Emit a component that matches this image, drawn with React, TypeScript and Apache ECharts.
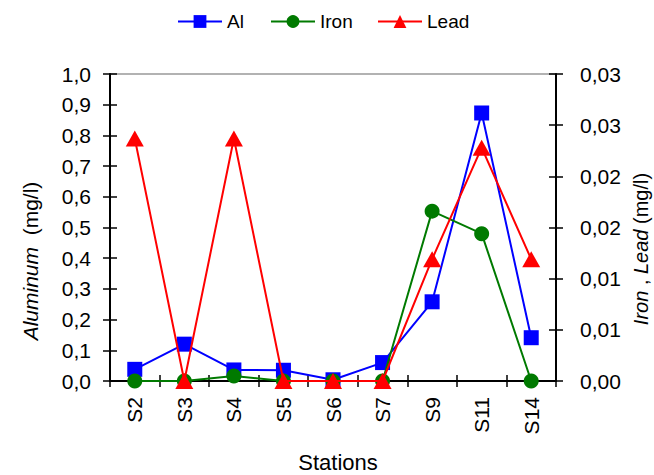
import React, { useEffect, useRef } from "react";
import * as echarts from "echarts";

const categories = ["S2", "S3", "S4", "S5", "S6", "S7", "S9", "S11", "S14"];
const aluminum = [0.038, 0.12, 0.036, 0.035, 0.004, 0.06, 0.258, 0.873, 0.141];
const iron = [0, 0, 0.0005, 0, 0, 0, 0.0166, 0.0144, 0];
const lead = [0.0237, 0, 0.0237, 0, 0, 0, 0.0119, 0.0228, 0.0119];
const seriesNames = ["Al", "Iron", "Lead"];

const FONT = "'Liberation Sans', Arial, sans-serif";

export default function App() {
  const ref = useRef<HTMLDivElement>(null);
  useEffect(() => {
    if (!ref.current) return;
    const chart = echarts.init(ref.current, null, { renderer: "svg" });
    const leftFmt = (v: number) => v.toFixed(1).replace(".", ",");
    const rightFmt = (v: number) =>
      (Math.round(Math.round(v * 1000) / 10) / 100).toFixed(2).replace(".", ",");
    const baseY = { type: "value", splitLine: { show: false } };
    const legendText = { fontFamily: FONT, fontSize: 19, color: "#000" };
    const legendLefts = [177, 270, 377];
    chart.setOption({
      animation: false,
      backgroundColor: "#fff",
      textStyle: { fontFamily: FONT },
      grid: {
        left: 110,
        right: 98,
        top: 74,
        bottom: 94,
        show: true,
        borderColor: "#999",
        borderWidth: 1.5,
      },
      legend: seriesNames.map((n, i) => ({
        data: [n],
        left: legendLefts[i],
        top: 12,
        padding: 0,
        itemWidth: 44,
        itemHeight: 16,
        itemGap: 0,
        textStyle: legendText,
      })),
      xAxis: [
        {
          type: "category",
          data: categories,
          position: "bottom",
          axisLine: { lineStyle: { color: "#000", width: 2 } },
          axisTick: { show: true, length: 6, lineStyle: { color: "#000", width: 1.5 } },
          axisLabel: {
            rotate: 90,
            margin: 16,
            fontSize: 21,
            color: "#000",
            fontFamily: FONT,
          },
        },
        {
          type: "category",
          data: categories,
          position: "bottom",
          axisLine: { show: false },
          axisTick: { show: true, inside: true, length: 6, lineStyle: { color: "#000", width: 1.5 } },
          axisLabel: { show: false },
        },
      ],
      yAxis: [
        {
          ...baseY,
          position: "left",
          min: 0,
          max: 1,
          interval: 0.1,
          axisLine: { show: true, lineStyle: { color: "#000", width: 2 } },
          axisTick: { show: true, length: 7, lineStyle: { color: "#000", width: 1.5 } },
          axisLabel: { formatter: leftFmt, margin: 19, fontSize: 21, color: "#000", fontFamily: FONT },
        },
        {
          ...baseY,
          position: "right",
          min: 0,
          max: 0.03,
          interval: 0.005,
          axisLine: { show: true, lineStyle: { color: "#000", width: 2 } },
          axisTick: { show: true, length: 7, lineStyle: { color: "#000", width: 1.5 } },
          axisLabel: { formatter: rightFmt, margin: 24, fontSize: 21, color: "#000", fontFamily: FONT },
        },
        {
          ...baseY,
          position: "left",
          min: 0,
          max: 1,
          interval: 0.1,
          axisLine: { show: false },
          axisTick: { show: true, inside: true, length: 7, lineStyle: { color: "#000", width: 1.5 } },
          axisLabel: { show: false },
        },
        {
          ...baseY,
          position: "right",
          min: 0,
          max: 0.03,
          interval: 0.005,
          axisLine: { show: false },
          axisTick: { show: true, inside: true, length: 7, lineStyle: { color: "#000", width: 1.5 } },
          axisLabel: { show: false },
        },
      ],
      series: [
        {
          name: seriesNames[0],
          type: "line",
          data: aluminum,
          yAxisIndex: 0,
          symbol: "rect",
          symbolSize: 15,
          color: "#0000ff",
          lineStyle: { width: 2, color: "#0000ff" },
          itemStyle: { color: "#0000ff" },
          z: 2,
        },
        {
          name: seriesNames[1],
          type: "line",
          data: iron,
          yAxisIndex: 1,
          symbol: "circle",
          symbolSize: 15,
          color: "#007a00",
          lineStyle: { width: 2, color: "#007a00" },
          itemStyle: { color: "#007a00" },
          z: 3,
        },
        {
          name: seriesNames[2],
          type: "line",
          data: lead,
          yAxisIndex: 1,
          symbol: "triangle",
          symbolSize: [18, 16],
          color: "#ff0000",
          lineStyle: { width: 2, color: "#ff0000" },
          itemStyle: { color: "#ff0000" },
          z: 4,
        },
      ],
      graphic: [
        {
          type: "text",
          x: 30,
          y: 261,
          rotation: Math.PI / 2,
          style: {
            text: "{i|Aluminum}  (mg/l)",
            fontSize: 21,
            fontFamily: FONT,
            fill: "#000",
            align: "center",
            verticalAlign: "middle",
            rich: { i: { fontStyle: "italic", fontSize: 21, fontFamily: FONT, fill: "#000" } },
          },
        },
        {
          type: "text",
          x: 641,
          y: 249,
          rotation: Math.PI / 2,
          style: {
            text: "{i|Iron} , {i|Lead} (mg/l)",
            fontSize: 20,
            fontFamily: FONT,
            fill: "#000",
            align: "center",
            verticalAlign: "middle",
            rich: { i: { fontStyle: "italic", fontSize: 20, fontFamily: FONT, fill: "#000" } },
          },
        },
        {
          type: "text",
          x: 338,
          y: 462,
          style: {
            text: "Stations",
            fontSize: 22,
            fontFamily: FONT,
            fill: "#000",
            align: "center",
            verticalAlign: "middle",
          },
        },
      ],
    });
    return () => chart.dispose();
  }, []);
  return <div ref={ref} style={{ width: 654, height: 475, position: "absolute", left: 0, top: 0 }} />;
}
